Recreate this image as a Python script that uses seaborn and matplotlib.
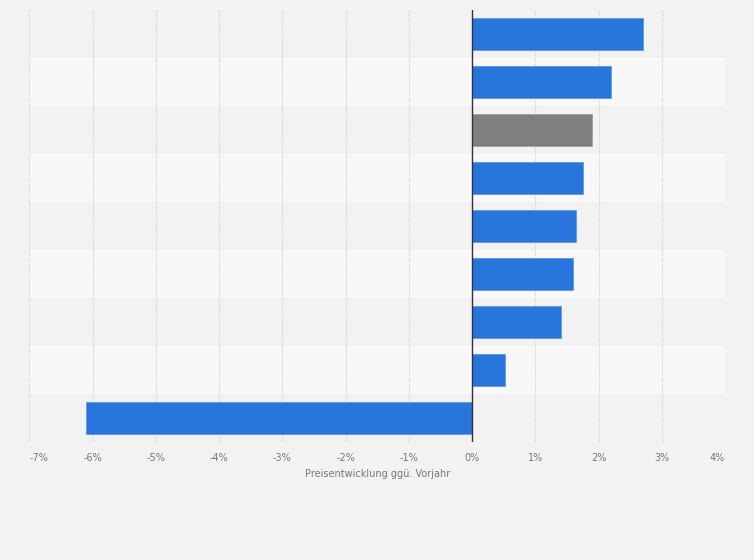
import matplotlib
matplotlib.use("Agg")
import matplotlib.pyplot as plt
import matplotlib.colors as mcolors
import seaborn as sns
import pandas as pd

# ==================================================
# Daten
# ==================================================
categories = ["Kategorie 1", "Kategorie 2", "Kategorie 3", "Kategorie 4", "Kategorie 5",
              "Kategorie 6", "Kategorie 7", "Kategorie 8", "Kategorie 9"]
values = [2.7, 2.2, 1.9, 1.75, 1.65, 1.6, 1.4, 0.52, -6.1]
highlight = [False, False, True, False, False, False, False, False, False]
x_ticks = [-7, -6, -5, -4, -3, -2, -1, 0, 1, 2, 3, 4]
x_label = "Preisentwicklung ggü. Vorjahr"

BLUE = "#2876dd"
GRAY = "#7f7f7f"

df = pd.DataFrame({"Kategorie": categories, "Wert": values})
palette = {c: (GRAY if h else BLUE) for c, h in zip(categories, highlight)}

sns.set_theme(style="white")
plt.rcParams["font.family"] = ["DejaVu Sans"]

fig = plt.figure(figsize=(7.54, 5.6), dpi=100, facecolor="#f2f2f2")
ax = fig.add_axes([29.3 / 754, 1 - 442 / 560, (725 - 29.3) / 754, 432 / 560])
ax.set_facecolor("#f2f2f2")

# abwechselnde Zeilen
for i in range(len(categories)):
    ax.axhspan(i - 0.5, i + 0.5, color="#f2f2f2" if i % 2 == 0 else "#f8f8f8", zorder=0, lw=0)

sns.barplot(data=df, x="Wert", y="Kategorie", hue="Kategorie", palette=palette,
            legend=False, orient="h", width=0.68, saturation=1, ax=ax, zorder=3,
            linewidth=0.6)
# Rand etwas heller als Füllung
for patch in ax.patches:
    fc = mcolors.to_rgb(patch.get_facecolor())
    patch.set_edgecolor(tuple(c + (1 - c) * 0.25 for c in fc))

ax.set_xlim(-7, 4)
ax.set_ylim(len(categories) - 0.5, -0.5)
ax.set_xticks(x_ticks)
ax.set_xticklabels([f"{t}%" for t in x_ticks], fontsize=7, color="#777777")
labels = ax.get_xticklabels()
labels[0].set_ha("left")
labels[-1].set_ha("right")
ax.tick_params(axis="x", length=0, pad=8)
ax.set_yticks([])
ax.set_ylabel("")
ax.set_xlabel(x_label, fontsize=7, color="#777777", labelpad=4)

for t in x_ticks:
    if t != 0:
        ax.axvline(t, color="#dadada", lw=0.8, ls=(0, (2, 1)), zorder=1)
ax.axvline(0, color="#333333", lw=1.0, zorder=4)

for s in ax.spines.values():
    s.set_visible(False)

plt.savefig("out.png", dpi=100, facecolor=fig.get_facecolor())
